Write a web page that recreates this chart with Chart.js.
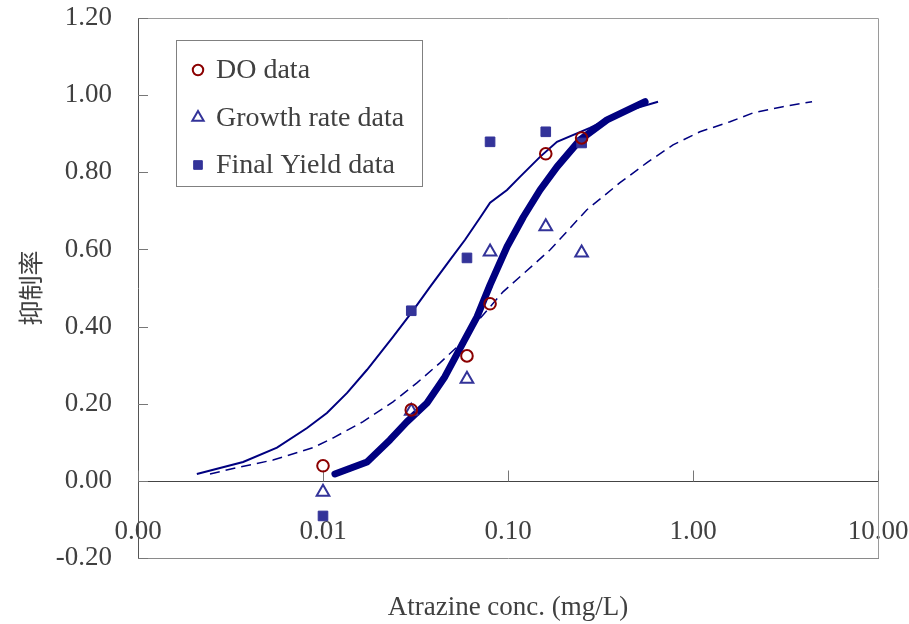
<!DOCTYPE html>
<html>
<head>
<meta charset="utf-8">
<script src="https://cdn.jsdelivr.net/npm/chart.js@4"></script>
<style>
  body { margin: 0; background: #fff; }
  canvas { display: block; }
</style>
</head>
<body>
<canvas id="inhibitChart" width="909" height="624"></canvas>
<script>
// measured concentrations (mg/L) and inhibition rates
const conc = [0.01, 0.03, 0.06, 0.08, 0.16, 0.25];
const doData = [0.039, 0.184, 0.324, 0.459, 0.848, 0.889];
const growthData = [-0.029, 0.181, 0.264, 0.594, 0.659, 0.591];
const yieldData = [-0.091, 0.441, 0.578, 0.879, 0.905, 0.876];

// fitted curves
const yieldFitX = [0.00208, 0.0037, 0.00564, 0.0082, 0.0105, 0.0135, 0.0173, 0.0239, 0.0303, 0.0379, 0.0486, 0.0586, 0.0706, 0.080, 0.0988, 0.116, 0.149, 0.184, 0.277, 0.403, 0.647];
const yieldFitY = [0.018, 0.049, 0.086, 0.137, 0.176, 0.228, 0.288, 0.373, 0.438, 0.503, 0.573, 0.625, 0.682, 0.721, 0.754, 0.788, 0.840, 0.879, 0.915, 0.954, 0.983];
const doFitX = [0.0116, 0.0173, 0.0230, 0.0284, 0.0365, 0.0456, 0.0571, 0.0680, 0.080, 0.0988, 0.121, 0.149, 0.184, 0.245, 0.343, 0.551];
const doFitY = [0.018, 0.049, 0.106, 0.153, 0.202, 0.270, 0.358, 0.425, 0.508, 0.607, 0.684, 0.754, 0.814, 0.884, 0.936, 0.983];
const growthFitX = [0.00245, 0.00356, 0.00537, 0.00883, 0.0113, 0.0164, 0.0239, 0.0322, 0.0429, 0.0530, 0.0680, 0.094, 0.169, 0.267, 0.403, 0.564, 0.780, 1.09, 1.585, 2.11, 3.06, 4.40];
const growthFitY = [0.018, 0.036, 0.054, 0.086, 0.111, 0.153, 0.205, 0.254, 0.306, 0.347, 0.412, 0.490, 0.599, 0.703, 0.773, 0.825, 0.871, 0.905, 0.931, 0.954, 0.970, 0.983];

const xTicks = [0.001, 0.01, 0.1, 1, 10];
const legendLabels = ['DO data', 'Growth rate data', 'Final Yield data'];

const textColor = '#404040';
const serif = "'Liberation Serif', 'Times New Roman', serif";
const navy = '#000080';

const pts = (xs, ys) => xs.map((x, i) => ({ x, y: ys[i] }));

const markers = [
  { pointStyle: 'circle', radius: 5.8, borderWidth: 2, color: '#8b0000', fill: 'rgba(0,0,0,0)' },
  { pointStyle: 'triangle', radius: 7.3, borderWidth: 2, color: '#333399', fill: 'rgba(0,0,0,0)' },
  { pointStyle: 'rect', radius: 6.8, borderWidth: 1, color: '#333399', fill: '#333399' }
];

function markerSet(label, ys, m) {
  return {
    label,
    data: pts(conc, ys),
    showLine: false,
    pointStyle: m.pointStyle,
    pointRadius: m.radius,
    pointBorderWidth: m.borderWidth,
    pointBorderColor: m.color,
    pointBackgroundColor: m.fill,
    order: 0
  };
}

// frame, zero line and inward tick marks
const framePlugin = {
  id: 'frame',
  beforeDatasetsDraw(chart) {
    const { ctx, chartArea: a, scales: { x, y } } = chart;
    ctx.save();
    ctx.lineWidth = 1;
    ctx.strokeStyle = '#9a9a9a';
    ctx.beginPath();
    ctx.moveTo(a.left, a.top + 0.5);
    ctx.lineTo(a.right + 0.5, a.top + 0.5);
    ctx.lineTo(a.right + 0.5, a.bottom);
    ctx.stroke();

    const y0 = Math.round(y.getPixelForValue(0)) + 0.5;
    ctx.strokeStyle = '#444';
    ctx.beginPath();
    ctx.moveTo(a.left, y0);
    ctx.lineTo(a.right, y0);
    ctx.stroke();

    ctx.strokeStyle = '#777';
    ctx.beginPath();
    xTicks.forEach(v => {
      const px = Math.round(x.getPixelForValue(v)) + 0.5;
      ctx.moveTo(px, y0);
      ctx.lineTo(px, y0 - 11);
    });
    y.ticks.forEach(t => {
      const py = Math.round(y.getPixelForValue(t.value)) + 0.5;
      ctx.moveTo(a.left, py);
      ctx.lineTo(a.left + 10, py);
    });
    ctx.stroke();
    ctx.restore();
  }
};

// boxed legend for the measured series only
const boxLegend = {
  id: 'boxLegend',
  afterDatasetsDraw(chart) {
    const { ctx } = chart;
    const bx = 176, by = 40, bw = 246, bh = 146;
    ctx.save();
    ctx.fillStyle = '#fff';
    ctx.fillRect(bx, by, bw, bh);
    ctx.strokeStyle = '#808080';
    ctx.lineWidth = 1;
    ctx.strokeRect(bx + 0.5, by + 0.5, bw, bh);
    ctx.font = '28px ' + serif;
    ctx.textBaseline = 'middle';
    legendLabels.forEach((label, i) => {
      const m = markers[i];
      const cy = by + 30 + i * 47.5;
      ctx.fillStyle = m.fill;
      ctx.strokeStyle = m.color;
      ctx.lineWidth = m.borderWidth;
      Chart.helpers.drawPoint(ctx, { pointStyle: m.pointStyle, radius: m.radius * 0.9, rotation: 0, borderWidth: m.borderWidth }, bx + 22, cy);
      ctx.fillStyle = textColor;
      ctx.fillText(label, bx + 40, cy + 1);
    });
    ctx.restore();
  }
};

new Chart(document.getElementById('inhibitChart'), {
  type: 'scatter',
  data: {
    datasets: [
      markerSet(legendLabels[0], doData, markers[0]),
      markerSet(legendLabels[1], growthData, markers[1]),
      markerSet(legendLabels[2], yieldData, markers[2]),
      {
        label: 'Final Yield fit',
        data: pts(yieldFitX, yieldFitY),
        showLine: true, pointRadius: 0,
        borderColor: navy, borderWidth: 2,
        order: 1
      },
      {
        label: 'DO fit',
        data: pts(doFitX, doFitY),
        showLine: true, pointRadius: 0,
        borderColor: navy, borderWidth: 7,
        borderCapStyle: 'round', borderJoinStyle: 'round',
        order: 1
      },
      {
        label: 'Growth rate fit',
        data: pts(growthFitX, growthFitY),
        showLine: true, pointRadius: 0,
        borderColor: navy, borderWidth: 1.5,
        borderDash: [10, 6],
        order: 1
      }
    ]
  },
  options: {
    responsive: false,
    animation: false,
    layout: { padding: { top: 18, right: 31, left: 0, bottom: 0 } },
    plugins: {
      legend: { display: false },
      tooltip: { enabled: false }
    },
    scales: {
      x: {
        type: 'logarithmic',
        min: 0.001,
        max: 10,
        afterBuildTicks: s => { s.ticks = xTicks.map(v => ({ value: v })); },
        afterFit: s => { s.height = 66; s.paddingLeft = 0; s.paddingRight = 0; },
        grid: { display: false, drawTicks: false },
        border: { display: true, color: '#8a8a8a', width: 1 },
        ticks: {
          mirror: true,
          padding: 10,
          autoSkip: false,
          maxRotation: 0,
          color: textColor,
          font: { family: serif, size: 27 },
          callback: v => Number(v).toFixed(2)
        },
        title: {
          display: true,
          text: 'Atrazine conc. (mg/L)',
          color: textColor,
          font: { family: serif, size: 27 },
          padding: { top: 0, bottom: 0 }
        }
      },
      y: {
        min: -0.2,
        max: 1.2,
        afterFit: s => { s.width = 138; s.paddingTop = 0; s.paddingBottom = 0; },
        grid: { display: false, drawTicks: false },
        border: { display: true, color: '#555', width: 1 },
        ticks: {
          stepSize: 0.2,
          padding: 26,
          color: textColor,
          font: { family: serif, size: 27 },
          callback: v => (Math.abs(v) < 1e-9 ? 0 : v).toFixed(2)
        },
        title: {
          display: true,
          text: '抑制率',
          color: textColor,
          font: { family: "'Noto Sans CJK TC', 'Noto Sans CJK SC', sans-serif", size: 25 },
          padding: { top: 15, bottom: 0 }
        }
      }
    }
  },
  plugins: [framePlugin, boxLegend]
});
</script>
</body>
</html>
